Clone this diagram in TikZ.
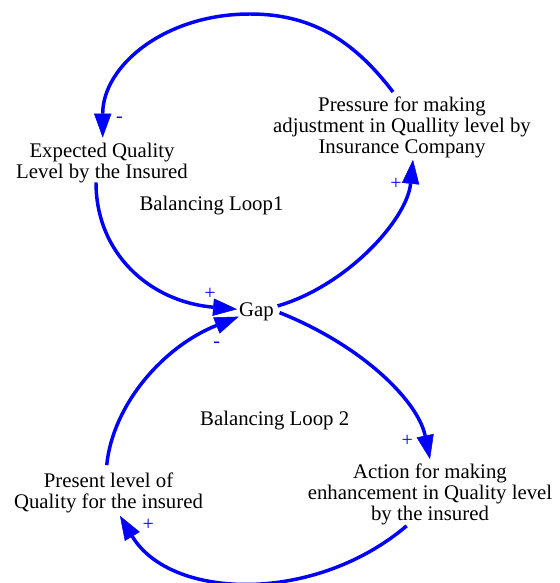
\documentclass[tikz,border=0pt]{standalone}
\usepackage{fontspec}
\setmainfont{Liberation Serif}
\usetikzlibrary{arrows.meta,calc}
\definecolor{linkblue}{RGB}{0,0,255}
\begin{document}
\begin{tikzpicture}[x=0.75pt,y=-0.75pt,
  lbl/.style={font=\fontsize{15.6}{15.75}\selectfont, align=center, inner sep=0pt, text=black},
  sgn/.style={font=\fontsize{15}{15.75}\selectfont, inner sep=0pt, text=linkblue, anchor=base},
  link/.style={draw=linkblue, line width=2.6pt, -{Triangle[length=18pt,width=13pt,line width=0.4pt]}}]
\useasboundingbox (0,0) rectangle (560,583);
% variables
\node[lbl] (exp) at (102,162.8) {Expected Quality\\Level by the Insured};
\node[lbl] (press) at (402,127.8) {Pressure for making\\adjustment in Quallity level by\\Insurance Company};
\node[lbl,anchor=base] (gap) at (256.5,316.5) {Gap};
\node[lbl] (pres) at (108.5,492.5) {Present level of\\Quality for the insured};
\node[lbl] (act) at (430,494.6) {Action for making\\enhancement in Quality level\\by the insured};
% loop names
\node[lbl,anchor=base] (loopA) at (211.5,210.7) {Balancing Loop1};
\node[lbl,anchor=base] (loopB) at (274.7,425) {Balancing Loop 2};
% links
\draw[link] ($(press.north)+(-9,-5)$) .. controls (351.7,37.7) and (308.8,14) .. (250,14)
   .. controls (164.6,14) and (102.7,66) .. ($(exp.north)+(0.7,-5)$);
\draw[link] ($(exp.south)+(-6,-0.6)$) .. controls (96,253.2) and (149.5,301.7) .. ($(gap.west)+(-1.8,-2.6)$);
\draw[link] ($(gap.east)+(3.5,-5.9)$) .. controls (346.2,286.1) and (406.9,220) .. ($(press.south)+(11,1.2)$);
\draw[link] ($(gap.east)+(5.5,0.8)$) .. controls (361.3,345.1) and (417.9,400.6) .. ($(act.north)+(0,-4.6)$);
\draw[link] ($(act.south)+(-23.3,0.4)$) .. controls (313.6,604.8) and (170.2,599.7) .. ($(pres.south)+(11.5,3)$);
\draw[link] ($(pres.north)+(-1.8,-7)$) .. controls (112.9,404.1) and (163.7,346.4) .. ($(gap.west)+(-0.2,4.8)$);
% polarities
\node[sgn] (s1) at (119.5,122) {-};
\node[sgn] (s2) at (396,189) {+};
\node[sgn] (s3) at (210,299) {+};
\node[sgn] (s4) at (216.7,347.2) {-};
\node[sgn] (s5) at (407.3,446.7) {+};
\node[sgn] (s6) at (148.3,530) {+};
\end{tikzpicture}
\end{document}
